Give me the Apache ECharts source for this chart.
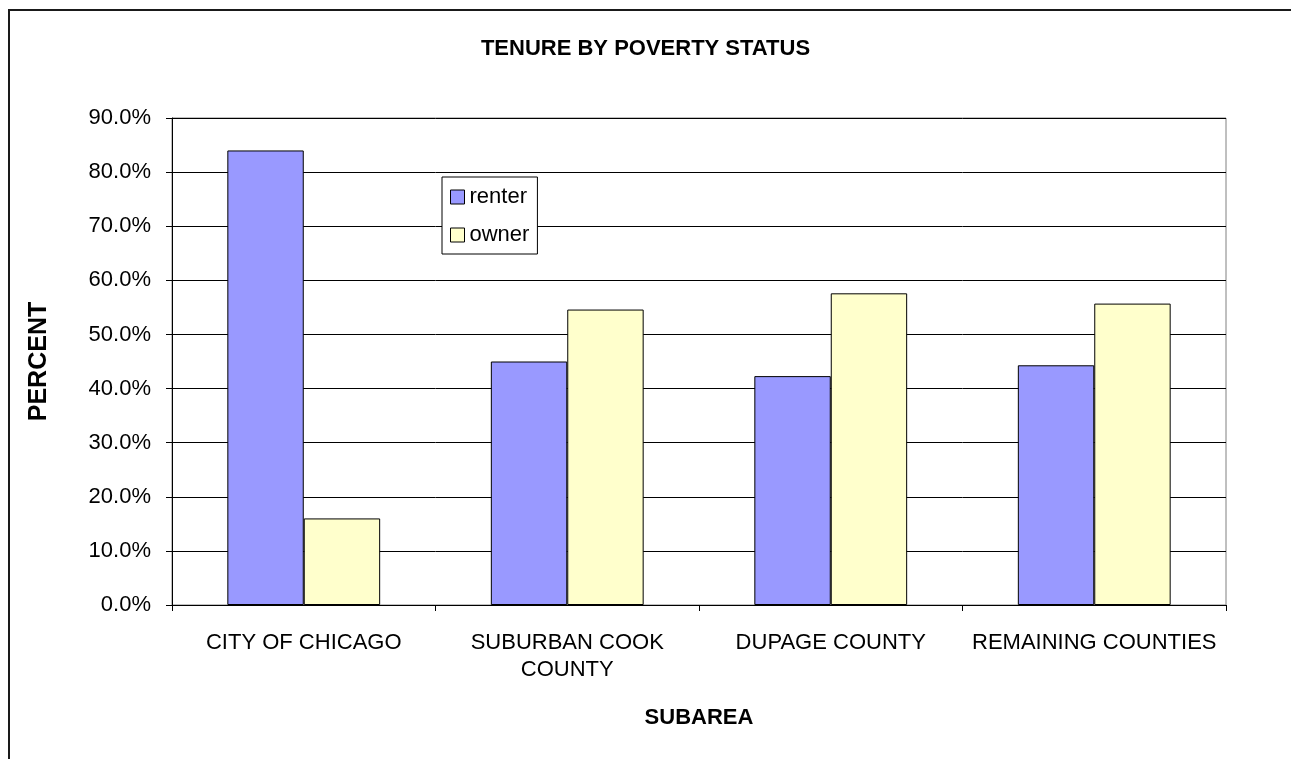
<!DOCTYPE html>
<html>
<head>
<meta charset="utf-8">
<script src="https://cdn.jsdelivr.net/npm/echarts@6/dist/echarts.min.js"></script>
<style>
  html, body { margin: 0; padding: 0; background: #fff; }
  #chart { width: 1291px; height: 759px; }
</style>
</head>
<body>
<div id="chart"></div>
<script>
const subareas = ['CITY OF CHICAGO', 'SUBURBAN COOK\nCOUNTY', 'DUPAGE COUNTY', 'REMAINING COUNTIES']
const renter = [84.0, 45.0, 42.3, 44.3]
const owner = [16.0, 54.6, 57.6, 55.7]
const yTicks = { min: 0, max: 90, interval: 10 }

const font = 'Liberation Sans, Arial, sans-serif'
const chart = echarts.init(document.getElementById('chart'))

chart.setOption({
  backgroundColor: '#fff',
  animation: false,
  title: {
    text: 'TENURE BY POVERTY STATUS',
    left: 'center',
    top: 33,
    textStyle: { fontFamily: font, fontSize: 22, fontWeight: 'bold', color: '#000' }
  },
  legend: {
    orient: 'vertical',
    left: 442,
    top: 177,
    padding: [9, 8, 8, 8],
    itemGap: 16,
    itemWidth: 14,
    itemHeight: 14,
    backgroundColor: '#fff',
    borderColor: '#000',
    borderWidth: 1,
    textStyle: { fontFamily: font, fontSize: 22, color: '#000', padding: [0, 0, 0, 0] },
    data: [
      { name: 'renter', icon: 'rect', itemStyle: { color: '#9999ff', borderColor: '#000', borderWidth: 1 } },
      { name: 'owner', icon: 'rect', itemStyle: { color: '#ffffcc', borderColor: '#000', borderWidth: 1 } }
    ]
  },
  grid: {
    left: 172,
    right: 65,
    top: 118,
    bottom: 154,
    show: true,
    borderColor: '#808080',
    borderWidth: 1,
    backgroundColor: 'transparent'
  },
  xAxis: {
    type: 'category',
    data: subareas,
    name: 'SUBAREA',
    nameLocation: 'middle',
    nameGap: 102,
    nameTextStyle: { fontFamily: font, fontSize: 22, fontWeight: 'bold', color: '#000' },
    axisLine: { lineStyle: { color: '#000', width: 1 } },
    axisTick: { show: true, length: 6, lineStyle: { color: '#000' } },
    axisLabel: { fontFamily: font, fontSize: 22, color: '#000', margin: 24, lineHeight: 27, interval: 0 }
  },
  yAxis: {
    type: 'value',
    min: yTicks.min,
    max: yTicks.max,
    interval: yTicks.interval,
    name: 'PERCENT',
    nameLocation: 'middle',
    nameRotate: 90,
    nameGap: 120,
    nameTextStyle: { fontFamily: font, fontSize: 25, fontWeight: 'bold', color: '#000' },
    axisLine: { show: true, lineStyle: { color: '#000', width: 1 } },
    axisTick: { show: true, length: 6, lineStyle: { color: '#000' } },
    axisLabel: {
      fontFamily: font, fontSize: 22, color: '#000', margin: 21,
      formatter: v => v.toFixed(1) + '%'
    },
    splitLine: { show: true, lineStyle: { color: '#000', width: 1 } }
  },
  series: [
    {
      name: 'renter',
      type: 'bar',
      data: renter,
      barGap: '0%',
      barCategoryGap: '42%',
      itemStyle: { color: '#9999ff', borderColor: '#000', borderWidth: 1 }
    },
    {
      name: 'owner',
      type: 'bar',
      data: owner,
      itemStyle: { color: '#ffffcc', borderColor: '#000', borderWidth: 1 }
    }
  ],
  graphic: [
    {
      type: 'rect',
      left: 8,
      top: 9,
      shape: { width: 1300, height: 770 },
      style: { fill: 'transparent', stroke: '#1a1a1a', lineWidth: 2 },
      silent: true
    }
  ]
})
</script>
</body>
</html>
